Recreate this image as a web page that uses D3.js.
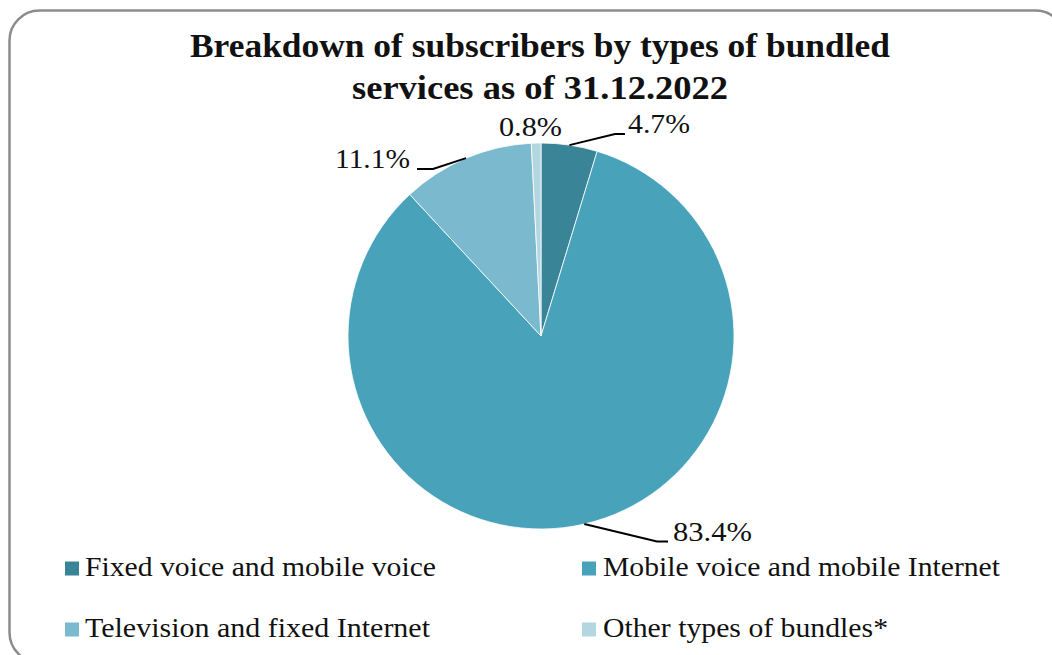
<!DOCTYPE html>
<html>
<head>
<meta charset="utf-8">
<script src="https://cdn.jsdelivr.net/npm/d3@7"></script>
<style>
  html, body { margin: 0; padding: 0; background: #fff; }
  svg { display: block; }
  text { font-family: "Liberation Serif", "Times New Roman", serif; fill: #111; }
</style>
</head>
<body>
<svg id="chart" width="1052" height="655"></svg>
<script>
// Bundled-service subscriber shares at 31.12.2022 (percent)
const categories = [
  "Fixed voice and mobile voice",
  "Mobile voice and mobile Internet",
  "Television and fixed Internet",
  "Other types of bundles*"
];
const shares = [4.7, 83.4, 11.1, 0.8];
const titleLines = [
  "Breakdown of subscribers by types of bundled",
  "services as of 31.12.2022"
];

const colors = ["#3a8498", "#48a2ba", "#7bb9ce", "#b4d6e1"];

const svg = d3.select("#chart");

// Rounded frame
svg.append("rect")
  .attr("x", 9.5).attr("y", 10.5)
  .attr("width", 1056).attr("height", 652)
  .attr("rx", 30).attr("ry", 30)
  .attr("fill", "#fff")
  .attr("stroke", "#8c8c8c")
  .attr("stroke-width", 2.5);

// Squeeze text horizontally to a given width
function fit(sel, w) {
  sel.attr("textLength", w).attr("lengthAdjust", "spacingAndGlyphs");
  return sel;
}

// Title
const titleSpecs = [{ y: 57, w: 700 }, { y: 99, w: 376 }];
titleLines.forEach((t, i) => {
  fit(svg.append("text")
    .attr("x", 540).attr("y", titleSpecs[i].y)
    .attr("text-anchor", "middle")
    .attr("font-size", 33)
    .attr("font-weight", "bold")
    .text(t), titleSpecs[i].w);
});

// Pie
const cx = 541, cy = 336, r = 193;
const data = categories.map((c, i) => ({ name: c, value: shares[i], color: colors[i] }));
const pie = d3.pie().value(d => d.value).sort(null);
const arcs = pie(data);
const arc = d3.arc().innerRadius(0).outerRadius(r);

const g = svg.append("g").attr("transform", `translate(${cx},${cy})`);
g.selectAll("path.slice")
  .data(arcs)
  .join("path")
  .attr("class", "slice")
  .attr("d", arc)
  .attr("fill", d => d.data.color)
  .attr("stroke", "#fff")
  .attr("stroke-width", 0.8);

// Leader lines run from the slice edge at its mid-angle to an elbow, then flat;
// coordinates are relative to the pie centre
const labelLayout = [
  { line: true, elbow: [74, -202], end: [84, -202], text: [87, -203], anchor: "start", w: 62 },
  { line: true, elbow: [116, 205.5], end: [127, 205.5], text: [132, 205], anchor: "start", w: 79 },
  { line: true, elbow: [-108, -167], end: [-124, -167], text: [-131, -168], anchor: "end", w: 75 },
  { line: false, text: [-10.5, -200], anchor: "middle", w: 63 }
];

const fmt = v => v.toFixed(1) + "%";

arcs.forEach((a, i) => {
  const L = labelLayout[i];
  const mid = (a.startAngle + a.endAngle) / 2;
  const p0 = [r * Math.sin(mid), -r * Math.cos(mid)];
  if (L.line) {
    g.append("polyline")
      .attr("points", [p0, L.elbow, L.end].map(p => p.join(",")).join(" "))
      .attr("fill", "none")
      .attr("stroke", "#000")
      .attr("stroke-width", 2);
  }
  fit(g.append("text")
    .attr("x", L.text[0]).attr("y", L.text[1])
    .attr("text-anchor", L.anchor)
    .attr("font-size", 27)
    .text(fmt(a.data.value)), L.w);
});

// Legend (2 x 2)
const legendPos = [
  { x: 65, y: 576, w: 351, tx: 85 },
  { x: 582, y: 576, w: 397, tx: 603 },
  { x: 65, y: 637, w: 345, tx: 85 },
  { x: 582, y: 637, w: 285, tx: 603 }
];
data.forEach((d, i) => {
  const p = legendPos[i];
  svg.append("rect")
    .attr("x", p.x).attr("y", p.y - 14.5)
    .attr("width", 14).attr("height", 14)
    .attr("fill", d.color);
  fit(svg.append("text")
    .attr("x", p.tx).attr("y", p.y)
    .attr("font-size", 27)
    .text(d.name), p.w);
});
</script>
</body>
</html>
